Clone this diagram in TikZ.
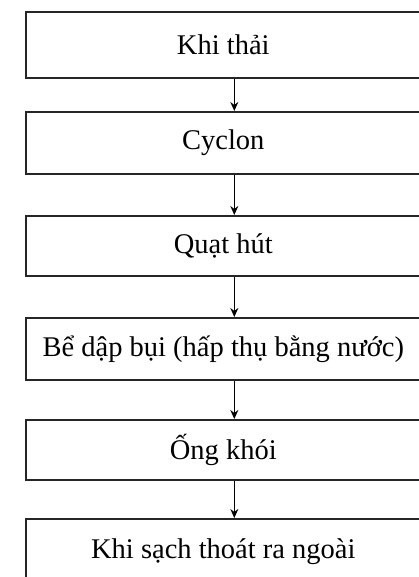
\documentclass[tikz,border=0pt]{standalone}
\usepackage{fontspec}
\setmainfont{Liberation Serif}
\usetikzlibrary{arrows.meta}
\begin{document}
\begin{tikzpicture}[x=1pt,y=-1pt,
  stagebox/.style={draw=black!85, line width=1.6pt, minimum width=395pt,
    inner sep=0pt, anchor=north west, font=\fontsize{28.5}{31}\selectfont},
  flow/.style={line width=1.3pt, -{Stealth[length=9pt,width=8pt]}}]
  \useasboundingbox (0,0) rectangle (419,577);
  \clip (0,0) rectangle (419,577);
  \node[stagebox, minimum height=66pt] (s1) at (25,11)  {Khi thải};
  \node[stagebox, minimum height=62pt] (s2) at (25,111) {Cyclon};
  \node[stagebox, minimum height=60pt] (s3) at (25,215) {Quạt hút};
  \node[stagebox, minimum height=62pt] (s4) at (25,317) {Bể dập bụi (hấp thụ bằng nước)};
  \node[stagebox, minimum height=60pt] (s5) at (25,419) {Ống khói};
  \node[stagebox, minimum height=66pt] (s6) at (25,518) {Khi sạch thoát ra ngoài};
  \foreach \a/\b in {s1/s2,s2/s3,s3/s4,s4/s5,s5/s6}
    \draw[flow] ([xshift=11pt]\a.south) -- ([xshift=11pt]\b.north);
\end{tikzpicture}
\end{document}
